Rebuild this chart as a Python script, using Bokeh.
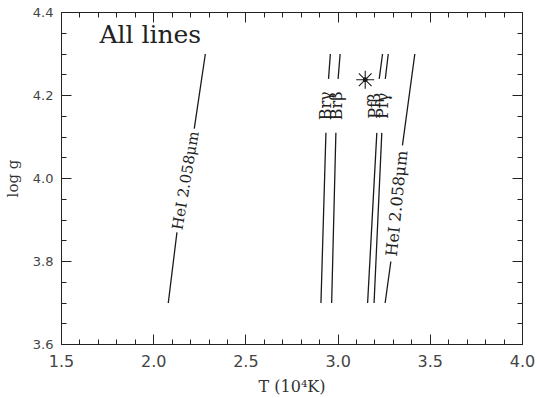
import math
from bokeh.plotting import figure
from bokeh.models import Range1d, LinearAxis, FixedTicker, CustomJSTickFormatter, Label
from bokeh.embed import file_html
from bokeh.resources import INLINE

nan = float("nan")

# ---- data ----
x_major = [1.5, 2.0, 2.5, 3.0, 3.5, 4.0]
x_minor = [1.6, 1.7, 1.8, 1.9, 2.1, 2.2, 2.3, 2.4, 2.6, 2.7, 2.8, 2.9,
           3.1, 3.2, 3.3, 3.4, 3.6, 3.7, 3.8, 3.9]
x_tick_labels = ["1.5", "2.0", "2.5", "3.0", "3.5", "4.0"]
y_major = [3.6, 3.8, 4.0, 4.2, 4.4]
y_minor = [3.65, 3.7, 3.75, 3.85, 3.9, 3.95, 4.05, 4.1, 4.15, 4.25, 4.3, 4.35]
y_tick_labels = ["3.6", "3.8", "4.0", "4.2", "4.4"]

# logg levels along each contour (nan = gap for the label)
heI_left_logg = [3.70, 3.87, nan, 4.12, 4.30]
heI_left_T = [2.079, 2.126, nan, 2.220, 2.280]
heI_right_logg = [3.70, 3.80, nan, 4.08, 4.30]
heI_right_T = [3.255, 3.286, nan, 3.349, 3.416]
h_logg = [3.70, 4.11, nan, 4.24, 4.30]
brg_T = [2.907, 2.934, nan, 2.948, 2.958]
brb_T = [2.965, 2.988, nan, 3.000, 3.011]
pfb_T = [3.160, 3.210, nan, 3.223, 3.241]
pfg_T = [3.195, 3.237, nan, 3.256, 3.272]

star_T = [3.147]
star_logg = [4.238]

heI_label = "HeI 2.058\u03bcm"
h_labels = ["Br\u03b3", "Br\u03b2", "Pf\u03b2", "Pf\u03b3"]
title_text = "All lines"

# ---- figure ----
X0, X1, Y0, Y1 = 1.5, 4.0, 3.6, 4.4
p = figure(width=537, height=398, output_backend="svg", toolbar_location=None,
           x_range=Range1d(X0, X1), y_range=Range1d(Y0, Y1),
           min_border_left=60, min_border_right=15, min_border_top=12,
           min_border_bottom=53)
p.grid.visible = False
p.outline_line_color = "#222222"
p.background_fill_color = "white"
p.border_fill_color = "white"

xt = FixedTicker(ticks=x_major, minor_ticks=x_minor)
yt = FixedTicker(ticks=y_major, minor_ticks=y_minor)
xlab = dict(zip(x_major, x_tick_labels))
ylab = dict(zip(y_major, y_tick_labels))

def style_axis(ax, ticker, show_labels):
    ax.ticker = ticker
    ax.major_tick_in = 10
    ax.major_tick_out = 0
    ax.minor_tick_in = 5
    ax.minor_tick_out = 0
    ax.axis_line_color = "#222222"
    ax.major_tick_line_color = "#222222"
    ax.minor_tick_line_color = "#222222"
    if not show_labels:
        ax.formatter = CustomJSTickFormatter(code="return ''")
        ax.major_label_text_font_size = "0px"
        ax.major_label_standoff = 0

style_axis(p.xaxis[0], xt, True)
style_axis(p.yaxis[0], yt, True)
p.xaxis[0].major_label_overrides = xlab
p.yaxis[0].major_label_overrides = ylab
p.xaxis[0].major_label_text_font = "DejaVu Sans"
p.xaxis[0].major_label_text_font_size = "16px"
p.xaxis[0].major_label_text_color = "#444444"
p.xaxis[0].major_label_standoff = 10
p.yaxis[0].major_label_text_font = "DejaVu Sans"
p.yaxis[0].major_label_text_font_size = "13px"
p.yaxis[0].major_label_text_color = "#444444"
p.yaxis[0].major_label_standoff = 8
p.xaxis[0].axis_label = "T (10\u2074K)"
p.xaxis[0].axis_label_text_font = "DejaVu Serif"
p.xaxis[0].axis_label_text_font_style = "normal"
p.xaxis[0].axis_label_text_font_size = "16px"
p.xaxis[0].axis_label_text_color = "#333333"
p.xaxis[0].axis_label_standoff = 7
p.yaxis[0].axis_label = "log g"
p.yaxis[0].axis_label_text_font = "DejaVu Serif"
p.yaxis[0].axis_label_text_font_style = "normal"
p.yaxis[0].axis_label_text_font_size = "15px"
p.yaxis[0].axis_label_text_color = "#333333"
p.yaxis[0].axis_label_standoff = 8

top = LinearAxis()
right = LinearAxis()
style_axis(top, xt, False)
style_axis(right, yt, False)
p.add_layout(top, "above")
p.add_layout(right, "right")

lc = "#1a1a1a"
for T, g in [(heI_left_T, heI_left_logg), (heI_right_T, heI_right_logg),
             (brg_T, h_logg), (brb_T, h_logg), (pfb_T, h_logg), (pfg_T, h_logg)]:
    p.line(T, g, line_color=lc, line_width=1.3)

p.scatter(star_T, star_logg, marker="asterisk", size=18, line_color=lc, line_width=1.1)
p.scatter(star_T, star_logg, marker="circle", size=4, fill_color=lc, line_color=lc)

# pixel scale of the frame for label angles
fw, fh = 537 - 60 - 15, 398 - 14 - 53
sx, sy = fw / (X1 - X0), fh / (Y1 - Y0)

def gap_label(T, g, text, size, angle=None, dx=0.0):
    i = [k for k in range(len(T)) if T[k] != T[k]][0]
    ta, tb, ga, gb = T[i - 1], T[i + 1], g[i - 1], g[i + 1]
    if angle is None:
        angle = math.atan2((gb - ga) * sy, (tb - ta) * sx)
    p.add_layout(Label(x=(ta + tb) / 2 + dx, y=(ga + gb) / 2, text=text, angle=angle,
                       text_align="center", text_baseline="middle",
                       text_font="DejaVu Serif", text_font_size=size,
                       text_color="#222222"))

gap_label(heI_left_T, heI_left_logg, heI_label, "15px")
gap_label(heI_right_T, heI_right_logg, heI_label, "16px")
gap_label(brg_T, h_logg, h_labels[0], "16px", angle=math.pi / 2, dx=-0.008)
gap_label(brb_T, h_logg, h_labels[1], "16px", angle=math.pi / 2, dx=-0.005)
gap_label(pfb_T, h_logg, h_labels[2], "16px", angle=math.pi / 2, dx=-0.02)
gap_label(pfg_T, h_logg, h_labels[3], "16px", angle=math.pi / 2, dx=-0.005)

p.add_layout(Label(x=1.706, y=4.347, text=title_text, text_align="left",
                   text_baseline="middle", text_font="DejaVu Serif",
                   text_font_size="25px", text_color="#222222"))

open("out.html", "w").write(file_html(p, INLINE))
